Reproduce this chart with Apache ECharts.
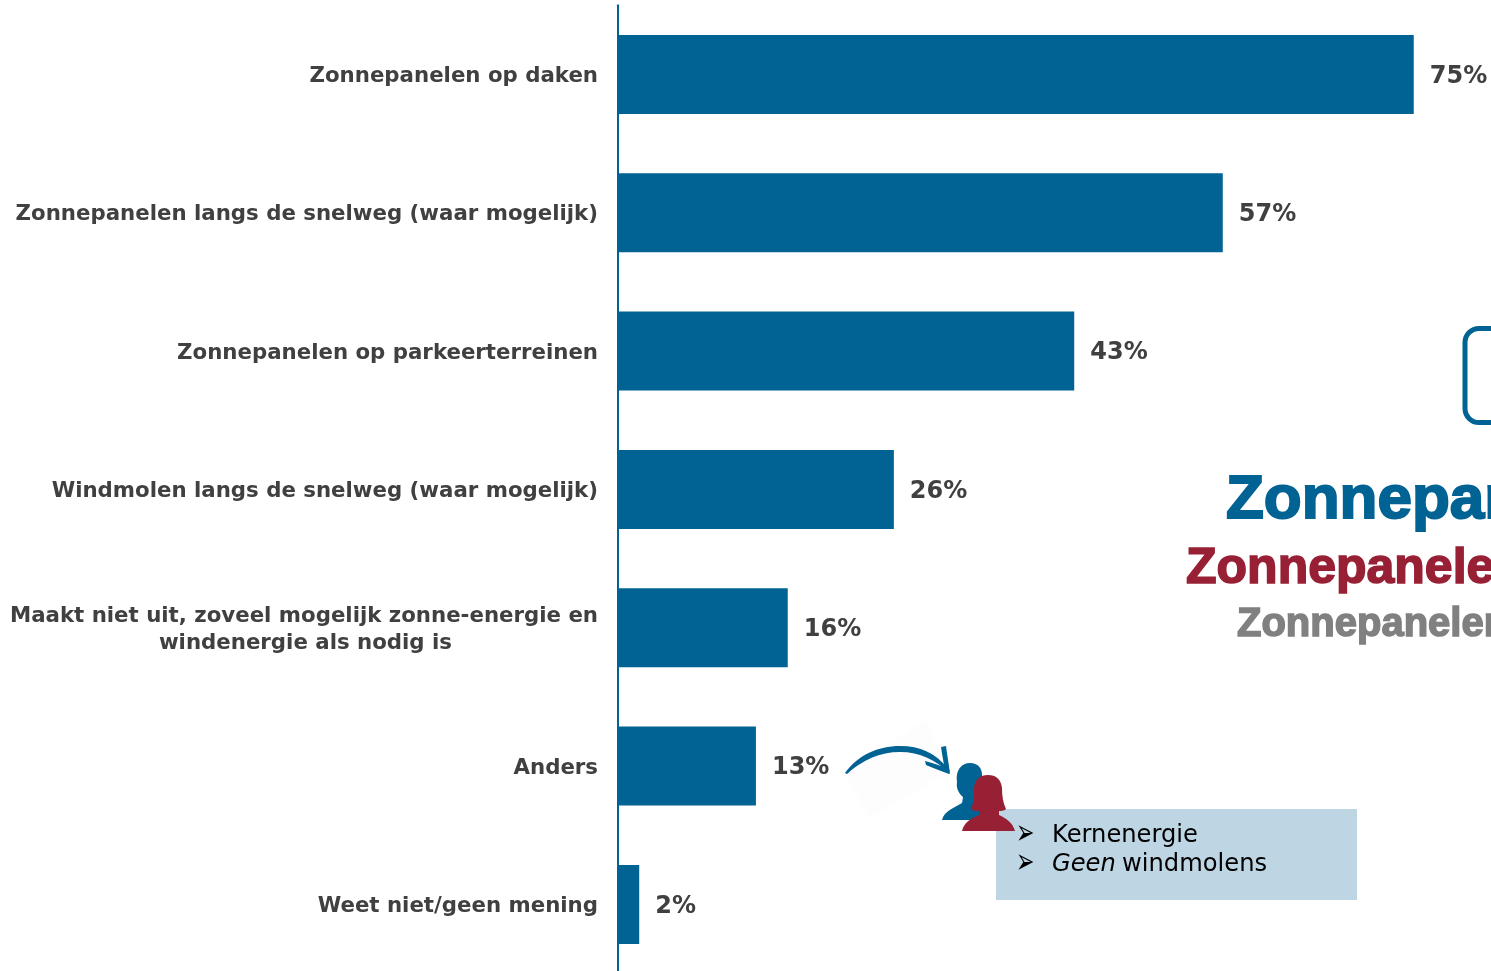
<!DOCTYPE html>
<html><head><meta charset="utf-8">
<style>html,body{margin:0;padding:0;background:#fff;overflow:hidden}#c{width:1491px;height:971px}</style>
<script src="https://cdn.jsdelivr.net/npm/echarts@6/dist/echarts.min.js"></script>
</head><body><div id="c"></div>
<script>
const categories = ["Zonnepanelen op daken","Zonnepanelen langs de snelweg (waar mogelijk)","Zonnepanelen op parkeerterreinen","Windmolen langs de snelweg (waar mogelijk)","Maakt niet uit, zoveel mogelijk zonne-energie en\nwindenergie als nodig is","Anders","Weet niet/geen mening"];
const values = [75,57,43,26,16,13,2];
const BLUE='#006394', RED='#982035', GREY='#808080', TXT='#404040';
const arrowPath='M845 773 C858 755 878 746 900 746 C920 746 936 753 947 768 L949 773 C936 760 920 752 900 752 C880 752 862 760 847 774 Z M941 747 L946 746 C947 755 949 764 950 774 L945 772 C944 763 942 755 941 747 Z M925 761 C933 763 942 766 950 770 L949 774 C941 771 933 768 926 765 Z';
const manPath='M942 820 C944 811 954 808 962 803 L963 797 C958 793 956 787 957 782 C955 770 962 763 970 763 C978 763 982 768 982 775 L985 820 Z';
const womanPath='M962 831 C964 822 972 818 979 815 L979 811 C976 811 973 811 971 809 C974 802 974 795 974 788 C975 779 980 775 988 775 C996 775 1001 779 1002 788 C1002 796 1003 803 1006 809 C1004 811 1001 811 999 811 L999 815 C1006 818 1013 823 1015 831 Z';
echarts.graphic.registerShape('arrowShape',echarts.graphic.extendPath(arrowPath));
echarts.graphic.registerShape('manShape',echarts.graphic.extendPath(manPath));
echarts.graphic.registerShape('womanShape',echarts.graphic.extendPath(womanPath));
const chart = echarts.init(document.getElementById('c'),null,{renderer:'canvas'});
function big(x,y,size,fill,sw){return {type:'text',z:5,style:{x,y,text:'Zonnepanelen',fill,stroke:fill,lineWidth:sw,font:'bold '+size+'px "Liberation Sans"'}};}
function t(x,y,text,font){return {type:'text',z:8,style:{x,y,text,fill:'#000',font,verticalAlign:'middle'}};}
function bullet(y){return {type:'text',z:8,x:1016,y,scaleY:1.6,style:{x:0,y:0,text:'➢',fill:'#000',font:'22px "DejaVu Sans"',verticalAlign:'middle'}};}
const labelStyle={color:TXT,fontFamily:'"DejaVu Sans"',fontWeight:'bold',fontSize:21.3,lineHeight:26.5};
chart.setOption({
  animation:false,
  backgroundColor:'#fff',
  grid:{left:618,top:5.3,width:848.8,height:968.3,outerBoundsMode:'none'},
  xAxis:{type:'value',min:0,max:80,show:false},
  yAxis:{type:'category',inverse:true,data:categories,
    axisLine:{show:true,lineStyle:{color:BLUE,width:2}},axisTick:{show:false},
    axisLabel:Object.assign({},labelStyle,{margin:20,align:'right',padding:[4,0,0,0],
      formatter:function(v){const p=v.split('\n');return p.length<2?v:p[0]+'\n{t|'+p[1]+'}{s|}';},
      rich:{t:labelStyle,s:{width:146,height:1}}})},
  series:[{type:'bar',data:values,barWidth:79,itemStyle:{color:BLUE},
    label:{show:true,position:'right',distance:16,offset:[0,2],color:TXT,fontFamily:'"DejaVu Sans"',fontWeight:'bold',fontSize:24,formatter:p=>p.value+'%'}}],
  graphic:[
    {type:'rect',z:4,shape:{x:1465,y:328.5,width:100,height:94,r:14},style:{fill:'none',stroke:BLUE,lineWidth:5}},
    big(1226,470,62,BLUE,2),
    big(1186,544,50,RED,1.6),
    big(1237,605,40,GREY,1.5),
    {type:'polygon',z:3,shape:{points:[[845,772],[927,720],[947,773],[869,818]]},style:{fill:'#fdfdfd'}},
    {type:'rect',z:4,shape:{x:996,y:809,width:361,height:91},style:{fill:'#bed6e3'}},
    {type:'arrowShape',z:5,style:{fill:BLUE}},
    {type:'manShape',z:6,style:{fill:BLUE}},
    {type:'womanShape',z:7,style:{fill:RED}},
    bullet(835),
    bullet(864),
    t(1052,836,'Kernenergie','24.2px "DejaVu Sans"'),
    t(1052,865,'Geen','italic 24.2px "DejaVu Sans"'),
    t(1122,865,'windmolens','24.2px "DejaVu Sans"')
  ]
});
</script></body></html>
